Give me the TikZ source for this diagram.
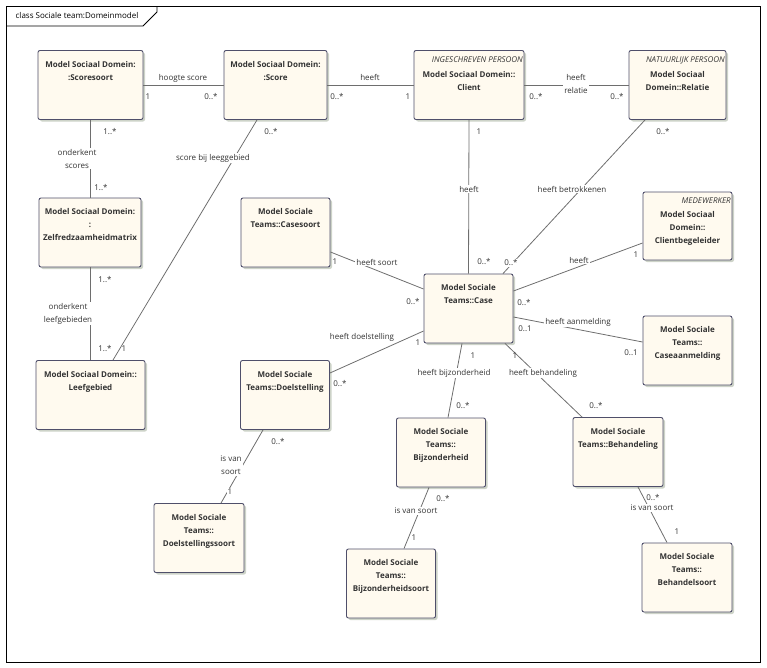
\documentclass[tikz,border=0pt]{standalone}
\usepackage{fontspec}
\setmainfont{Open Sans}
\usetikzlibrary{positioning,shadows}
\definecolor{boxfill}{HTML}{FFFAEF}
\definecolor{boxline}{HTML}{4F4F6A}
\definecolor{shade}{HTML}{CDD3C8}
\definecolor{assocline}{HTML}{6E6E6E}
\definecolor{ink}{HTML}{333333}
\newcommand{\diagfont}{\fontsize{8bp}{13bp}\selectfont}
\tikzset{cls/.style={draw=boxline,fill=boxfill,rounded corners=2bp,line width=0.9bp,
           minimum width=89bp,minimum height=69bp,inner sep=0pt,
           general shadow={fill=shade,shadow xshift=2bp,shadow yshift=-2bp}},
         ttl/.style={anchor=north,yshift=-11bp,align=center,inner sep=0pt,font=\bfseries\diagfont,text=ink},
         stereo/.style={anchor=north east,xshift=-1.5bp,yshift=-6.5bp,inner sep=0pt,font=\itshape\diagfont,text=ink},
         lbl/.style={fill=white,inner sep=1bp,align=center,font=\diagfont,text=ink},
         mult/.style={inner sep=1bp,font=\diagfont,text=ink},
         assoc/.style={draw=assocline,line width=0.8bp},
         umlframe/.style={draw=black,line width=0.8bp}
}

\begin{document}
\begin{tikzpicture}[x=1bp,y=-1bp]
\useasboundingbox (0,0) rectangle (767,668);

% frame
\draw[umlframe] (6.5,6.5) rectangle (760.5,662);
\draw[umlframe] (6.5,26) -- (143,26) -- (157,12) -- (157,6.5);
\node[font=\diagfont,text=black] (title) at (77,16) {class Sociale team:Domeinmodel};

% classes
\node[cls,minimum width=105bp,label={[ttl]north:{Model Sociaal Domein:\\:Scoresoort}}] (scoresoort) at (90.5,85) {};
\node[cls,minimum width=103bp,label={[ttl]north:{Model Sociaal Domein:\\:Score}}] (score) at (275.5,85) {};
\node[cls,minimum width=110bp,label={[stereo]north east:INGESCHREVEN PERSOON},
      label={[ttl,yshift=-10bp]north:{Model Sociaal Domein::\\Client}}] (client) at (469,85) {};
\node[cls,minimum width=97bp,label={[stereo]north east:NATUURLIJK PERSOON},
      label={[ttl,yshift=-10bp]north:{Model Sociaal\\Domein::Relatie}}] (relatie) at (677.5,85) {};
\node[cls,minimum width=102bp,label={[ttl]north:{Model Sociaal Domein:\\:\\Zelfredzaamheidmatrix}}] (matrix) at (90,232.5) {};
\node[cls,label={[ttl]north:{Model Sociale\\Teams::Casesoort}}] (casesoort) at (285.5,232.5) {};
\node[cls,label={[ttl]north:{Model Sociale\\Teams::Case}}] (case) at (468.5,308.5) {};
\node[cls,minimum height=68bp,label={[stereo]north east:MEDEWERKER},
      label={[ttl,yshift=-9bp]north:{Model Sociaal\\Domein::\\Clientbegeleider}}] (begeleider) at (687.5,226) {};
\node[cls,label={[ttl]north:{Model Sociale\\Teams::\\Caseaanmelding}}] (aanmelding) at (687.5,350.5) {};
\node[cls,minimum width=109bp,label={[ttl]north:{Model Sociaal Domein::\\Leefgebied}}] (leefgebied) at (90.5,395) {};
\node[cls,label={[ttl]north:{Model Sociale\\Teams::Doelstelling}}] (doelstelling) at (285,395) {};
\node[cls,label={[ttl]north:{Model Sociale\\Teams::\\Bijzonderheid}}] (bijzonderheid) at (441,452.5) {};
\node[cls,minimum width=90bp,label={[ttl]north:{Model Sociale\\Teams::Behandeling}}] (behandeling) at (618,452) {};
\node[cls,minimum width=90bp,label={[ttl]north:{Model Sociale\\Teams::\\Doelstellingssoort}}] (doelsoort) at (199,538) {};
\node[cls,label={[ttl]north:{Model Sociale\\Teams::\\Bijzonderheidsoort}}] (bijzsoort) at (391,583.5) {};
\node[cls,minimum width=90bp,label={[ttl]north:{Model Sociale\\Teams::\\Behandelsoort}}] (behsoort) at (687,577.5) {};

% associations
\draw[assoc] (scoresoort) -- (score);
\draw[assoc] (score) -- (client);
\draw[assoc] (client) -- (relatie);
\draw[assoc] (scoresoort.south -| matrix.north) -- (matrix.north);
\draw[assoc] (matrix.south) -- (matrix.south |- leefgebied.north);
\draw[assoc] ([xshift=-18.5bp]score.south) -- ([xshift=22.5bp]leefgebied.north);
\draw[assoc] (client.south) -- (case.north);
\draw[assoc] ([xshift=-32.5bp]relatie.south) -- ([xshift=34.5bp]case.north);
\draw[assoc] ([yshift=-19.5bp]casesoort.east) -- ([yshift=19.5bp]case.west);
\draw[assoc] ([yshift=-17bp]begeleider.west) -- ([yshift=17.5bp]case.east);
\draw[assoc] ([yshift=-8.5bp]case.east) -- ([yshift=8.5bp]aanmelding.west);
\draw[assoc] ([yshift=22bp]doelstelling.east) -- ([yshift=-22.5bp]case.west);
\draw[assoc] ([xshift=-6.5bp]case.south) -- ([xshift=7bp]bijzonderheid.north);
\draw[assoc] ([xshift=36.5bp]case.south) -- ([xshift=-36bp]behandeling.north);
\draw[assoc] ([xshift=-22bp]doelstelling.south) -- ([xshift=22bp]doelsoort.north);
\draw[assoc] ([xshift=-12bp]bijzonderheid.south) -- ([xshift=13bp]bijzsoort.north);
\draw[assoc] ([xshift=20bp]behandeling.south) -- ([xshift=-20bp]behsoort.north);

% multiplicities
\node[mult] (m1) at (148,97) {1};
\node[mult] (m2) at (211,97) {0..*};
\node[mult] (m3) at (337,97) {0..*};
\node[mult] (m4) at (408,97) {1};
\node[mult] (m5) at (536,97) {0..*};
\node[mult] (m6) at (617,97) {0..*};
\node[mult] (m7) at (110,132) {1..*};
\node[mult] (m8) at (101,188) {1..*};
\node[mult] (m9) at (105,280) {1..*};
\node[mult] (m10) at (105,349) {1..*};
\node[mult] (m11) at (124,349) {1};
\node[mult] (m12) at (271,132) {0..*};
\node[mult] (m13) at (479,132) {1};
\node[mult] (m14) at (484,262) {0..*};
\node[mult] (m15) at (663,132) {0..*};
\node[mult,fill=white] (m16) at (511,263) {0..*};
\node[mult] (m17) at (335,262) {1};
\node[mult] (m18) at (413,302) {0..*};
\node[mult] (m19) at (636,255) {1};
\node[mult] (m20) at (524,303) {0..*};
\node[mult] (m21) at (525,329) {0..1};
\node[mult] (m22) at (631,353) {0..1};
\node[mult] (m23) at (418,343) {1};
\node[mult] (m24) at (340,384) {0..*};
\node[mult] (m25) at (473,356) {1};
\node[mult] (m26) at (463,406) {0..*};
\node[mult] (m27) at (515,356) {1};
\node[mult] (m28) at (596,406) {0..*};
\node[mult] (m29) at (278,442) {0..*};
\node[mult,fill=white] (m30) at (230,492) {1};
\node[mult] (m31) at (443,499) {0..*};
\node[mult] (m32) at (414,538) {1};
\node[mult] (m33) at (653,498) {0..*};
\node[mult] (m34) at (677,532) {1};

% association names
\node[lbl] (hoogte) at (183,78) {hoogte score};
\node[lbl] (heeftscore) at (370,77) {heeft};
\node[lbl] (heeftrelatie) at (576,83.5) {heeft\\relatie};
\node[lbl] (scoreslbl) at (77,158.5) {onderkent\\scores};
\node[lbl] (leefgeblbl) at (68,313.5) {onderkent\\leefgebieden};
\node[lbl] (leeglbl) at (213,158) {score bij leeggebied};
\node[lbl] (clientcase) at (469,189) {heeft};
\node[lbl] (betrokken) at (572,189) {heeft betrokkenen};
\node[lbl] (soortlbl) at (377,262) {heeft soort};
\node[lbl] (begeleidlbl) at (579,260) {heeft};
\node[lbl] (aanmeldlbl) at (578,322) {heeft aanmelding};
\node[lbl] (doellbl) at (362,337) {heeft doelstelling};
\node[lbl] (bijzlbl) at (454,373) {heeft bijzonderheid};
\node[lbl] (behlbl) at (543,373) {heeft behandeling};
\node[lbl] (doelsrtlbl) at (231,465.5) {is van\\soort};
\node[lbl] (bijzsrtlbl) at (416,511) {is van soort};
\node[lbl] (behsrtlbl) at (652,508) {is van soort};

\end{tikzpicture}
\end{document}
